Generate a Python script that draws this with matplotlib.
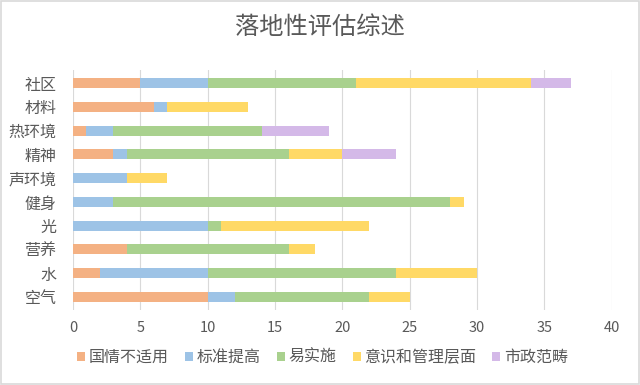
import numpy as np
import matplotlib
matplotlib.use('Agg')
import matplotlib.pyplot as plt

plt.rcParams['font.family'] = ['Noto Sans CJK SC', 'DejaVu Sans']

categories = ['空气', '水', '营养', '光', '健身', '声环境', '精神', '热环境', '材料', '社区']
series_names = ['国情不适用', '标准提高', '易实施', '意识和管理层面', '市政范畴']
guoqing = [10, 2, 4, 0, 0, 0, 3, 1, 6, 5]
biaozhun = [2, 8, 0, 10, 3, 4, 1, 2, 1, 5]
yishishi = [10, 14, 12, 1, 25, 0, 12, 11, 0, 11]
yishi = [3, 6, 2, 11, 1, 3, 4, 0, 6, 13]
shizheng = [0, 0, 0, 0, 0, 0, 4, 5, 0, 3]
colors = ['#F4B183', '#9DC3E6', '#A9D18E', '#FFD966', '#D4B9E8']

txt = '#595959'
fig = plt.figure(figsize=(6.4, 3.85), dpi=100)
ax = fig.add_axes([0.114, 0.195, 0.842, 0.623])

y = np.arange(len(categories))
left = np.zeros(len(categories))
for name, vals, c in zip(series_names, [guoqing, biaozhun, yishishi, yishi, shizheng], colors):
    ax.barh(y, vals, left=left, height=0.42, color=c, label=name, zorder=3)
    left += np.array(vals)

ax.set_xlim(0, 40)
ax.set_xticks(range(0, 41, 5))
ax.set_ylim(-0.55, len(categories) - 0.45)
ax.set_yticks(y)
ax.set_yticklabels(categories)
ax.grid(axis='x', color='#D9D9D9', linewidth=0.8, zorder=0)
for s in ax.spines.values():
    s.set_visible(False)
ax.tick_params(length=0, colors=txt, labelsize=10.5)
ax.tick_params(axis='x', pad=8)
ax.tick_params(axis='y', pad=12, labelsize=11.5)

fig.suptitle('落地性评估综述', x=0.5, y=0.965, fontsize=17.5, color=txt, fontweight='light')
fig.legend(loc='lower center', bbox_to_anchor=(0.504, 0.012), ncol=5, frameon=False,
           fontsize=11.5, labelcolor=txt, handlelength=0.5, handleheight=0.5,
           handletextpad=0.25, columnspacing=1.0)

fig.patches.append(plt.Rectangle((0.002, 0.003), 0.996, 0.994, transform=fig.transFigure,
                                 fill=False, edgecolor='#D9D9D9', linewidth=1.2))
fig.savefig('out.png', dpi=100)
